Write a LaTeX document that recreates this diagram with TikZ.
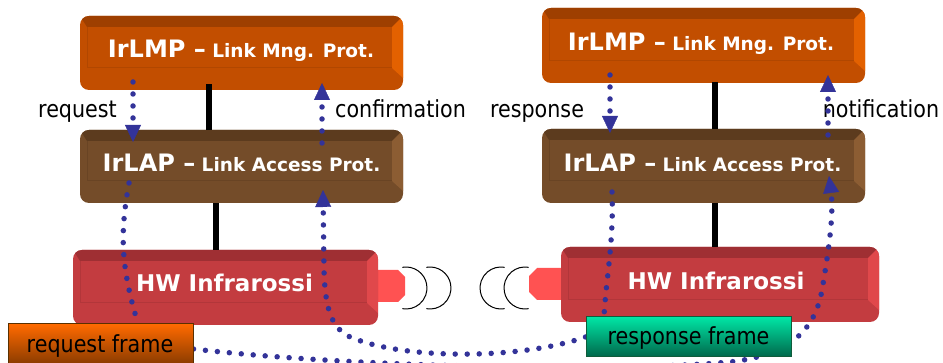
\documentclass[tikz,border=0pt]{standalone}
\usepackage{fontspec}
\setmainfont{DejaVu Sans}
\newfontfamily\lblfont{DejaVu Sans}[FakeStretch=0.88]
\usetikzlibrary{arrows.meta,calc}
\pgfdeclarelayer{front}
\pgfsetlayers{main,front}
\definecolor{lmpMain}{HTML}{C24E00}
\definecolor{lmpTop}{HTML}{9E3F00}
\definecolor{lmpSide}{HTML}{E36100}
\definecolor{lapMain}{HTML}{744C29}
\definecolor{lapTop}{HTML}{5C3B1E}
\definecolor{lapSide}{HTML}{8C5D33}
\definecolor{hwMain}{HTML}{C33C40}
\definecolor{hwTop}{HTML}{9F2F33}
\definecolor{hwSide}{HTML}{E0484B}
\definecolor{nubCol}{HTML}{FF5252}
\definecolor{dotblue}{HTML}{333399}
\definecolor{reqTop}{HTML}{FF6A00}
\definecolor{reqBot}{HTML}{6E3000}
\definecolor{reqEdge}{HTML}{5A3000}
\definecolor{resTop}{HTML}{00E6A5}
\definecolor{resBot}{HTML}{00664A}
\definecolor{resEdge}{HTML}{105C3A}
\tikzset{
  bev/.style n args={3}{fill=#1, draw=none, rounded corners=9pt, inner sep=0pt,
    path picture={
      \fill[#2, sharp corners] (path picture bounding box.north west) -- (path picture bounding box.north east)
        -- ([xshift=-11pt,yshift=-11pt]path picture bounding box.north east)
        -- ([xshift=7pt,yshift=-11pt]path picture bounding box.north west) -- cycle;
      \fill[#3, sharp corners] (path picture bounding box.north east)
        -- ([xshift=-11pt,yshift=-11pt]path picture bounding box.north east)
        -- ([xshift=-11pt,yshift=22pt]path picture bounding box.south east)
        -- ([yshift=12pt]path picture bounding box.south east) -- cycle;
      \draw[#2, line width=1pt, sharp corners, opacity=.45]
        ([xshift=7pt,yshift=-11pt]path picture bounding box.north west)
        -- ([xshift=7pt,yshift=22pt]path picture bounding box.south west)
        -- ([xshift=-11pt,yshift=22pt]path picture bounding box.south east);
    }},
  boxtxt/.style={anchor=base, text=white, inner sep=0pt, font=\bfseries\fontsize{18.5}{20}\selectfont},
  hwtxt/.style={anchor=base, text=white, inner sep=0pt, font=\bfseries\fontsize{23}{24}\selectfont},
  lbl/.style={anchor=base, inner sep=0pt, font=\lblfont\fontsize{23.5}{24}\selectfont},
  link/.style={line width=6pt, black},
  dots/.style={draw=dotblue, line width=5.5pt, line cap=round, dash pattern=on 0pt off 12pt},
  tipA/.style={-{Triangle[width=16pt,length=17pt,line width=0.4pt]}},
  wave/.style={line width=1pt, black},
  nubshape/.style={fill=nubCol, draw=none},
  reqframe/.style={draw=reqEdge, line width=1pt, top color=reqTop, bottom color=reqBot, inner sep=0pt},
  resframe/.style={draw=resEdge, line width=1pt, top color=resTop, bottom color=resBot, inner sep=0pt},
}
\newcommand{\bigpart}[1]{{\fontsize{24}{24}\selectfont #1}}
\begin{document}
\begin{tikzpicture}[x=1pt,y=-1pt]
\useasboundingbox (0,0) rectangle (943,363);
\clip (0,0) rectangle (943,363);

% emitter nubs
\fill[nubshape] (372,270) -- (398,270) -- (405,277) -- (405,295) -- (398,302) -- (372,302) -- cycle;
\fill[nubshape] (566,268) -- (537,268) -- (529,276) -- (529,292) -- (537,300) -- (566,300) -- cycle;

% boxes
\node[bev={lmpMain}{lmpTop}{lmpSide}, minimum width=323pt, minimum height=74pt] (lmpL) at (241.5,53) {};
\node[bev={lapMain}{lapTop}{lapSide}, minimum width=323pt, minimum height=73pt] (lapL) at (241.5,166.5) {};
\node[bev={hwMain}{hwTop}{hwSide}, minimum width=305pt, minimum height=75pt] (hwL) at (225.5,287.5) {};
\node[bev={lmpMain}{lmpTop}{lmpSide}, minimum width=323pt, minimum height=75pt] (lmpR) at (703.5,45.5) {};
\node[bev={lapMain}{lapTop}{lapSide}, minimum width=323pt, minimum height=74pt] (lapR) at (703.5,166) {};
\node[bev={hwMain}{hwTop}{hwSide}, minimum width=318pt, minimum height=75pt] (hwR) at (720,284.5) {};

% box texts
\node[boxtxt] (tLmpL) at (241,58) {\bigpart{IrLMP –} Link Mng. Prot.};
\node[boxtxt] (tLapL) at (241.5,172) {\bigpart{IrLAP –} Link Access Prot.};
\node[hwtxt] (tHwL) at (224.5,292) {HW Infrarossi};
\node[boxtxt] (tLmpR) at (701,51) {\bigpart{IrLMP –} Link Mng. Prot.};
\node[boxtxt] (tLapR) at (702.5,172) {\bigpart{IrLAP –} Link Access Prot.};
\node[hwtxt] (tHwR) at (716,290) {HW Infrarossi};

% black links between layers
\draw[link] ([xshift=-32.5pt,yshift=6pt]lmpL.south) -- ([xshift=-32.5pt]lapL.north);
\draw[link] ([xshift=-25.5pt]lapL.south) -- ([xshift=-9.5pt]hwL.north);
\draw[link] ([xshift=11.5pt,yshift=1pt]lmpR.south) -- ([xshift=11.5pt]lapR.north);
\draw[link] ([xshift=11.5pt]lapR.south) -- ([xshift=-5pt]hwR.north);

% infrared waves
\draw[wave] (406,288) ++(-100:21) arc[start angle=-100, end angle=100, radius=21];
\draw[wave] (430,288) ++(-100:21) arc[start angle=-100, end angle=100, radius=21];
\draw[wave] (501,288) ++(80:21) arc[start angle=80, end angle=280, radius=21];
\draw[wave] (525,288) ++(80:21) arc[start angle=80, end angle=280, radius=21];

% labels
\node[lbl] (lReq) at (77.5,118) {request};
\node[lbl] (lConf) at (400.5,118) {confirmation};
\node[lbl] (lResp) at (537,118) {response};
\node[lbl] (lNotif) at (881,118) {notification};

% frames (on the front layer, above the dotted paths)
\begin{pgfonlayer}{front}
\node[reqframe, minimum width=185pt, minimum height=50pt] (reqf) at (100.5,349) {};
\node[resframe, minimum width=205pt, minimum height=40pt] (resf) at (688.5,337) {};
\node[lbl] (tReq) at (100,353) {request frame};
\node[lbl] (tRes) at (688.5,345) {response frame};
\end{pgfonlayer}

% coordinates for connector ends
\coordinate (rqA) at (133,82);  \coordinate (rqB) at (133,142);
\coordinate (cfA) at (322,143); \coordinate (cfB) at (322,83);
\coordinate (rsA) at (610,75);  \coordinate (rsB) at (610,133);
\coordinate (ntA) at (828,135); \coordinate (ntB) at (828,75);
\coordinate (dnL) at (129,183);
\coordinate (upL) at (323,190);
\coordinate (dnR) at (612,192);
\coordinate (upR) at (829,176);

% dotted primitives between layers
\draw[dots,tipA] (rqA) -- (rqB);
\draw[dots,tipA] (cfA) -- (cfB);
\draw[dots,tipA] (rsA) -- (rsB);
\draw[dots,tipA] (ntA) -- (ntB);

% dotted frame paths
\draw[dots] (dnL) .. controls (121,228) and (119,262) .. (reqf.north -| 138,0);
\draw[dots] (dnR) .. controls (614,240) and (606,280) .. (resf.north -| 604,0);
\draw[dots,tipA] (resf.west) .. controls (520,360) and (400,360) .. (348,336)
   .. controls (330,326) and (325,305) .. (324,270) -- (upL);
\draw[dots,tipA] (reqf.east) .. controls (360,368) and (620,372) .. (730,362)
   .. controls (790,355) and (815,330) .. (822,290)
   .. controls (828,255) and (834,215) .. (upR);
\end{tikzpicture}
\end{document}
